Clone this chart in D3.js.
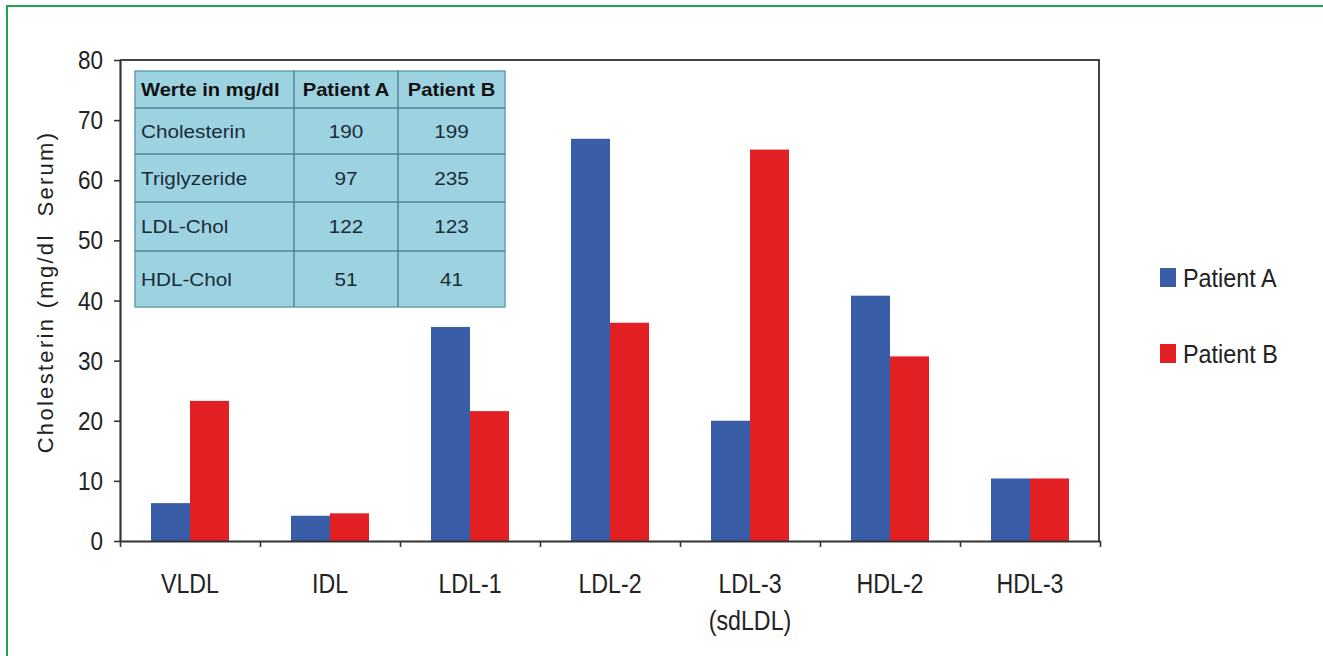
<!DOCTYPE html>
<html>
<head>
<meta charset="utf-8">
<script src="https://cdn.jsdelivr.net/npm/d3@7/dist/d3.min.js"></script>
<style>
  html, body { margin: 0; padding: 0; background: #fff; }
  svg { display: block; }
  text { font-family: "Liberation Sans", Arial, Helvetica, sans-serif; fill: #222; }
</style>
</head>
<body>
<svg id="chart" width="1323" height="656"></svg>
<script>
// Lipoprotein subfractions (cholesterol content, mg/dl serum)
const categories = ["VLDL", "IDL", "LDL-1", "LDL-2", "LDL-3", "HDL-2", "HDL-3"];
const categorySublabels = ["", "", "", "", "(sdLDL)", "", ""];
const seriesNames = ["Patient A", "Patient B"];
const patientA = [6.3, 4.2, 35.6, 66.9, 20.0, 40.8, 10.4];
const patientB = [23.3, 4.6, 21.6, 36.3, 65.1, 30.7, 10.4];
const yTicks = [0, 10, 20, 30, 40, 50, 60, 70, 80];

// Summary table of lab values
const tableHeader = ["Werte in mg/dl", "Patient A", "Patient B"];
const tableRowLabels = ["Cholesterin", "Triglyzeride", "LDL-Chol", "HDL-Chol"];
const tableA = [190, 97, 122, 51];
const tableB = [199, 235, 123, 41];

const colors = { "Patient A": "#3a5da8", "Patient B": "#e21f23" };

const svg = d3.select("#chart");

// Outer green frame
svg.append("rect")
  .attr("x", 7).attr("y", 6)
  .attr("width", 1323).attr("height", 660)
  .attr("fill", "none").attr("stroke", "#1fa64c").attr("stroke-width", 2);

const plot = { left: 120, right: 1100, top: 60, bottom: 541 };

const x = d3.scaleBand()
  .domain(categories)
  .range([plot.left, plot.right])
  .paddingInner(0.443)
  .paddingOuter(0.2215);

const xSeries = d3.scaleBand()
  .domain(seriesNames)
  .range([0, x.bandwidth()]);

const y = d3.scaleLinear()
  .domain([0, 80])
  .range([plot.bottom, plot.top]);

// Plot frame: top and right edges
svg.append("path")
  .attr("d", `M${plot.left},${plot.top}H${plot.right - 1}V${plot.bottom}`)
  .attr("fill", "none").attr("stroke", "#444").attr("stroke-width", 2);

// Bars
const rows = categories.map((c, i) => ({ cat: c, values: [
  { name: "Patient A", value: patientA[i] },
  { name: "Patient B", value: patientB[i] }
]}));

const groups = svg.append("g").selectAll("g")
  .data(rows).join("g")
  .attr("transform", d => `translate(${x(d.cat)},0)`);

groups.selectAll("rect")
  .data(d => d.values).join("rect")
  .attr("x", d => xSeries(d.name))
  .attr("width", xSeries.bandwidth())
  .attr("y", d => y(d.value))
  .attr("height", d => y(0) - y(d.value))
  .attr("fill", d => colors[d.name]);

// Y axis
const yAxis = svg.append("g")
  .attr("transform", `translate(${plot.left},0)`)
  .call(d3.axisLeft(y).tickValues(yTicks).tickSize(6).tickSizeOuter(0).tickFormat(""));
yAxis.select(".domain").attr("stroke", "#333").attr("stroke-width", 2.2);
yAxis.selectAll(".tick line").attr("stroke", "#333").attr("stroke-width", 1.6);

svg.append("g").selectAll("text")
  .data(yTicks).join("text")
  .attr("transform", d => `translate(103,${y(d) + 9}) scale(0.9,1)`)
  .attr("text-anchor", "end")
  .attr("font-size", 25)
  .text(d => d);

// X axis with ticks on category boundaries
const xEdge = d3.scaleLinear().domain([0, categories.length]).range([plot.left, plot.right]);
const xAxis = svg.append("g")
  .attr("transform", `translate(0,${plot.bottom})`)
  .call(d3.axisBottom(xEdge).ticks(categories.length).tickSize(6).tickSizeOuter(0).tickFormat(""));
xAxis.select(".domain").attr("stroke", "#333").attr("stroke-width", 2.2);
xAxis.selectAll(".tick line").attr("stroke", "#333").attr("stroke-width", 1.6);

const xLabels = svg.append("g").selectAll("g")
  .data(categories).join("g")
  .attr("transform", d => `translate(${x(d) + x.bandwidth() / 2},0)`);
xLabels.append("text")
  .attr("transform", "translate(0,593) scale(0.86,1)")
  .attr("text-anchor", "middle").attr("font-size", 27)
  .text(d => d);
xLabels.append("text")
  .attr("transform", "translate(0,630) scale(0.86,1)")
  .attr("text-anchor", "middle").attr("font-size", 27)
  .text((d, i) => categorySublabels[i]);

// Y axis title
svg.append("text")
  .attr("transform", "translate(53,292) rotate(-90)")
  .attr("text-anchor", "middle")
  .attr("font-size", 22)
  .attr("letter-spacing", 2.3)
  .attr("xml:space", "preserve")
  .text("Cholesterin (mg/dl  Serum)");

// Legend
const legend = svg.append("g").selectAll("g")
  .data(seriesNames).join("g")
  .attr("transform", (d, i) => `translate(1160,${268 + i * 76})`);
legend.append("rect")
  .attr("width", 16).attr("height", 19)
  .attr("fill", d => colors[d]);
legend.append("text")
  .attr("transform", "translate(23,19) scale(0.9,1)")
  .attr("font-size", 26)
  .text(d => d);

// Inset table
const table = { left: 135, right: 505, cols: [135, 294, 398, 505], rowEdges: [71, 108, 154, 202, 251, 307] };
const tg = svg.append("g");
tg.append("rect")
  .attr("x", table.left).attr("y", table.rowEdges[0])
  .attr("width", table.right - table.left)
  .attr("height", table.rowEdges[5] - table.rowEdges[0])
  .attr("fill", "#9dd3e1").attr("stroke", "#6a9fae").attr("stroke-width", 1.5);
table.rowEdges.slice(1, -1).forEach(yy => {
  tg.append("line").attr("x1", table.left).attr("x2", table.right)
    .attr("y1", yy).attr("y2", yy).attr("stroke", "#4f8595").attr("stroke-width", 1.5);
});
table.cols.slice(1, -1).forEach(xx => {
  tg.append("line").attr("x1", xx).attr("x2", xx)
    .attr("y1", table.rowEdges[0]).attr("y2", table.rowEdges[5])
    .attr("stroke", "#4f8595").attr("stroke-width", 1.5);
});
const rowMid = i => (table.rowEdges[i] + table.rowEdges[i + 1]) / 2 + 6.5;
const colMid = j => (table.cols[j] + table.cols[j + 1]) / 2;

tg.selectAll("text.head")
  .data(tableHeader).join("text")
  .attr("class", "head")
  .attr("transform", (d, j) => j === 0
    ? `translate(141,${rowMid(0)}) scale(1.12,1)`
    : `translate(${colMid(j)},${rowMid(0)}) scale(1.12,1)`)
  .attr("text-anchor", (d, j) => j === 0 ? "start" : "middle")
  .attr("font-size", 18).attr("font-weight", "bold")
  .style("fill", "#111")
  .text(d => d);

const tableRows = tableRowLabels.map((l, i) => [l, tableA[i], tableB[i]]);
tableRows.forEach((r, i) => {
  tg.selectAll(`text.r${i}`)
    .data(r).join("text")
    .attr("class", `r${i}`)
    .attr("transform", (d, j) => j === 0
      ? `translate(141,${rowMid(i + 1)}) scale(1.12,1)`
      : `translate(${colMid(j)},${rowMid(i + 1)}) scale(1.12,1)`)
    .attr("text-anchor", (d, j) => j === 0 ? "start" : "middle")
    .attr("font-size", 18.5)
    .style("fill", "#1a2c38")
    .text(d => d);
});
</script>
</body>
</html>
